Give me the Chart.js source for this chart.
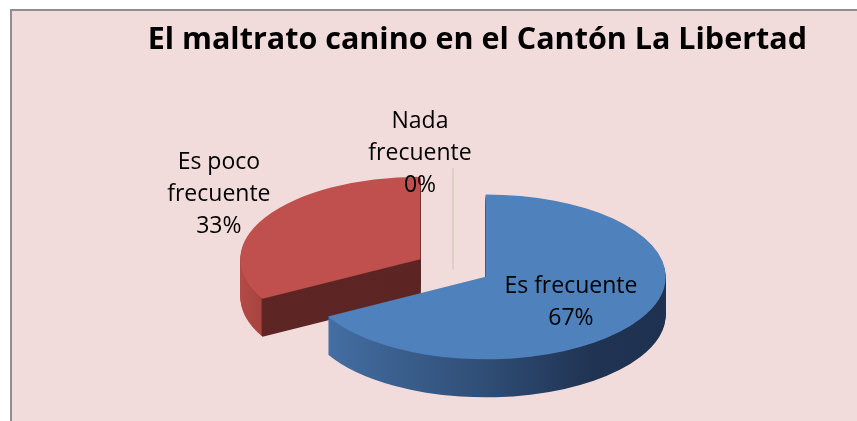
<!DOCTYPE html>
<html>
<head>
<meta charset="utf-8">
<script src="https://cdn.jsdelivr.net/npm/chart.js@4/dist/chart.umd.min.js"></script>
<style>
  html, body { margin: 0; padding: 0; background: #ffffff; overflow: hidden; }
  #frame { position: absolute; left: 10px; top: 9px; width: 900px; height: 460px;
           background: #F2DCDB; border-left: 2px solid #8e8e8e; border-top: 2px solid #8e8e8e; }
  #c { position: absolute; left: 0; top: 0; }
</style>
</head>
<body>
<div id="frame"></div>
<canvas id="c" width="857" height="421"></canvas>
<script>
// ---- data ----
const chartTitle = 'El maltrato canino en el Cantón La Libertad';
const categories = ['Es frecuente', 'Es poco frecuente', 'Nada frecuente'];
const percentages = [67, 33, 0];
const percentLabels = ['67%', '33%', '0%'];

// ---- styles ----
const topColors = ['#4F81BD', '#C0504D', '#9BBB59'];
const TILT = 0.458;      // vertical squash of the pie (3D view)
const DEPTH = 38;        // thickness of the pie in px
const EXPLODE = 38;      // slice explosion distance
const CENTER_Y = 268;    // vertical position of the pie centre
const labelRadius = [0.55, 1.3, 1.21];
const labelNudge = [[0, 3], [0, -10], [-33, 3]];
const labelWrap = [false, true, true];
const LABEL_FONT = "23px 'Open Sans'";
const LINE_H = 32;

function sideGradient(ctx, arc, idx) {
  const R = arc.outerRadius;
  const g = ctx.createLinearGradient(arc.x - R, 0, arc.x + R, 0);
  if (idx === 0) {
    g.addColorStop(0, '#4873a8');
    g.addColorStop(0.1, '#426b9e');
    g.addColorStop(0.5, '#2f4d75');
    g.addColorStop(0.8, '#203352');
    g.addColorStop(1, '#1f3150');
  } else {
    const tc = Math.min(Math.max((1 + Math.cos(arc.startAngle)) / 2, 0.01), 0.99);
    g.addColorStop(0, '#b24b48');
    g.addColorStop(tc - 0.005, '#a8433f');
    g.addColorStop(tc, '#5d2624');
    g.addColorStop(1, '#5a2422');
  }
  return g;
}

function explodeShift(arc) {
  const h = (arc.startAngle + arc.endAngle) / 2;
  return { h, ex: EXPLODE * Math.cos(h), ey: EXPLODE * Math.sin(h) * TILT };
}

const pie3d = {
  id: 'pie3d',
  beforeDatasetsDraw(chart) {
    const ctx = chart.ctx;
    const dpr = chart.currentDevicePixelRatio || 1;
    const data = chart.getDatasetMeta(0).data;
    const order = data.map((a, i) => i).sort((i, j) => {
      const a = data[i], b = data[j];
      return Math.sin((a.startAngle + a.endAngle) / 2) - Math.sin((b.startAngle + b.endAngle) / 2);
    });
    order.forEach(idx => {
      const arc = data[idx];
      const { ex, ey } = explodeShift(arc);
      const R = arc.outerRadius;
      if (arc.circumference === 0) {
        const a = arc.startAngle;
        const x0 = arc.x + EXPLODE * Math.cos(a);
        const y0 = CENTER_Y + EXPLODE * Math.sin(a) * TILT;
        ctx.save();
        ctx.setTransform(dpr, 0, 0, dpr, 0, 0);
        ctx.strokeStyle = '#ddcfc5';
        ctx.lineWidth = 2;
        ctx.beginPath();
        ctx.moveTo(x0 + R * Math.cos(a), y0 + R * Math.sin(a) * TILT);
        ctx.lineTo(x0, y0 + DEPTH / 2);
        ctx.stroke();
        ctx.restore();
        return;
      }
      const fake = Object.create(arc);
      fake.options = Object.assign({}, arc.options, { backgroundColor: sideGradient(ctx, arc, idx), borderWidth: 0 });
      for (let k = DEPTH; k >= 1; k--) {
        ctx.save();
        ctx.setTransform(dpr, 0, 0, dpr * TILT, dpr * ex, dpr * (CENTER_Y - arc.y * TILT + ey + k));
        fake.draw(ctx);
        ctx.restore();
      }
      ctx.save();
      ctx.setTransform(dpr, 0, 0, dpr * TILT, dpr * ex, dpr * (CENTER_Y - arc.y * TILT + ey));
      arc.draw(ctx);
      ctx.restore();
    });
    return false;
  },
  afterDraw(chart) {
    const ctx = chart.ctx;
    const data = chart.getDatasetMeta(0).data;
    ctx.save();
    ctx.font = LABEL_FONT;
    ctx.fillStyle = '#000000';
    ctx.textAlign = 'center';
    ctx.textBaseline = 'middle';
    data.forEach((arc, i) => {
      const { h, ex, ey } = explodeShift(arc);
      const R = arc.outerRadius;
      const f = labelRadius[i];
      const ax = arc.x + ex + f * R * Math.cos(h) + labelNudge[i][0];
      const ay = CENTER_Y + ey + f * R * Math.sin(h) * TILT + labelNudge[i][1];
      let lines;
      const name = categories[i];
      if (labelWrap[i] && name.lastIndexOf(' ') > 0) {
        const p = name.lastIndexOf(' ');
        lines = [name.slice(0, p), name.slice(p + 1)];
      } else {
        lines = [name];
      }
      lines.push(percentLabels[i]);
      lines.forEach((t, k) => {
        ctx.fillText(t, ax, ay + (k - (lines.length - 1) / 2) * LINE_H);
      });
    });
    ctx.restore();
  }
};

Chart.defaults.font.family = "'Open Sans'";

new Chart(document.getElementById('c'), {
  type: 'pie',
  data: {
    labels: categories,
    datasets: [{
      data: percentages,
      backgroundColor: topColors,
      borderWidth: 0,
      clip: false
    }]
  },
  options: {
    responsive: false,
    animation: false,
    events: [],
    radius: 180,
    layout: { padding: { left: 99, right: 50, top: 0, bottom: 0 } },
    plugins: {
      legend: { display: false },
      tooltip: { enabled: false },
      title: {
        display: true,
        text: chartTitle,
        align: 'end',
        color: '#000000',
        font: { family: "'Open Sans'", size: 30.5, weight: 'bold', lineHeight: 1.2 },
        padding: { top: 22, bottom: 0 }
      }
    }
  },
  plugins: [pie3d]
});
</script>
</body>
</html>
